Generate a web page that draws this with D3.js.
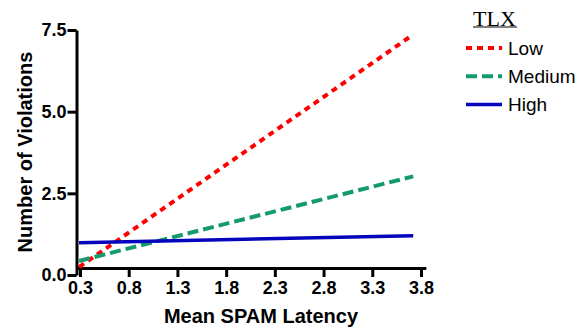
<!DOCTYPE html>
<html>
<head>
<meta charset="utf-8">
<script src="https://cdn.jsdelivr.net/npm/d3@7/dist/d3.min.js"></script>
<style>
  html, body { margin: 0; padding: 0; background: #fff; }
  svg { display: block; }
</style>
</head>
<body>
<svg id="chart" width="586" height="328"></svg>
<script>
// ---- data ----
const seriesNames = ["Low", "Medium", "High"];
const xValues = [0.29, 3.72];
const lowValues = [0.24, 7.36];
const mediumValues = [0.43, 3.02];
const highValues = [0.99, 1.20];
const xTicks = [0.3, 0.8, 1.3, 1.8, 2.3, 2.8, 3.3, 3.8];
const yTicks = [0.0, 2.5, 5.0, 7.5];
const legendTitle = "TLX";
const xTitle = "Mean SPAM Latency";
const yTitle = "Number of Violations";

const series = [
  { name: seriesNames[0], values: lowValues, color: "#ff0000", dash: "6,5", width: 4, cap: "butt" },
  { name: seriesNames[1], values: mediumValues, color: "#149a6c", dash: "11,5", width: 4, cap: "butt" },
  { name: seriesNames[2], values: highValues, color: "#0505bd", dash: null, width: 3.5, cap: "butt" }
];

const svg = d3.select("#chart");
const font = "'Liberation Sans', Arial, Helvetica, sans-serif";

const k = 341 / 3.5;
const x = d3.scaleLinear().domain([0.27, 3.85]).range([80 - 0.03 * k, 80 + 3.55 * k]);
const y = d3.scaleLinear().domain([0, 7.5]).range([275, 30]);

// x axis
const xAxisY = 268;
const gx = svg.append("g")
  .attr("transform", `translate(0,${xAxisY})`)
  .call(d3.axisBottom(x).tickValues(xTicks).tickFormat(d3.format(".1f")).tickSize(9).tickSizeOuter(0).tickPadding(4));

// y axis
const yAxisX = 76.5;
const gy = svg.append("g")
  .attr("transform", `translate(${yAxisX},0)`)
  .call(d3.axisLeft(y).tickValues(yTicks).tickFormat(d3.format(".1f")).tickSize(9).tickSizeOuter(0).tickPadding(1));

[gx, gy].forEach(g => {
  g.select(".domain").attr("stroke", "#000").attr("stroke-width", 3);
  g.selectAll(".tick line").attr("stroke", "#000").attr("stroke-width", 3);
  g.selectAll(".tick text")
    .attr("fill", "#000")
    .style("font-family", font)
    .style("font-weight", "bold")
    .style("font-size", "18px");
});

// lines
const line = d3.line().x(d => x(d[0])).y(d => y(d[1]));
series.forEach(s => {
  const pts = xValues.map((xv, i) => [xv, s.values[i]]);
  svg.append("path")
    .attr("d", line(pts))
    .attr("fill", "none")
    .attr("stroke", s.color)
    .attr("stroke-width", s.width)
    .attr("stroke-linecap", s.cap)
    .attr("stroke-dasharray", s.dash);
});

// axis titles
svg.append("text")
  .attr("x", 261).attr("y", 323)
  .attr("text-anchor", "middle")
  .style("font-family", font).style("font-weight", "bold").style("font-size", "20px")
  .text(xTitle);

svg.append("text")
  .attr("transform", "translate(31.5,152) rotate(-90)")
  .attr("text-anchor", "middle")
  .style("font-family", font).style("font-weight", "bold").style("font-size", "20px")
  .text(yTitle);

// legend
const lg = svg.append("g");
lg.append("text")
  .attr("x", 473).attr("y", 26)
  .style("font-family", "'Liberation Serif', 'Times New Roman', serif")
  .style("font-size", "22px")
  .text(legendTitle);
lg.append("line")
  .attr("x1", 473).attr("x2", 517).attr("y1", 27).attr("y2", 27)
  .attr("stroke", "#000").attr("stroke-width", 1);

series.forEach((s, i) => {
  const yy = 48 + i * 28.2;
  lg.append("line")
    .attr("x1", 466).attr("x2", 502).attr("y1", yy).attr("y2", yy)
    .attr("stroke", s.color)
    .attr("stroke-width", s.width)
    .attr("stroke-dasharray", s.dash);
  lg.append("text")
    .attr("x", 508).attr("y", yy + 6.5)
    .style("font-family", font)
    .style("font-size", "19px")
    .text(s.name);
});
</script>
</body>
</html>
